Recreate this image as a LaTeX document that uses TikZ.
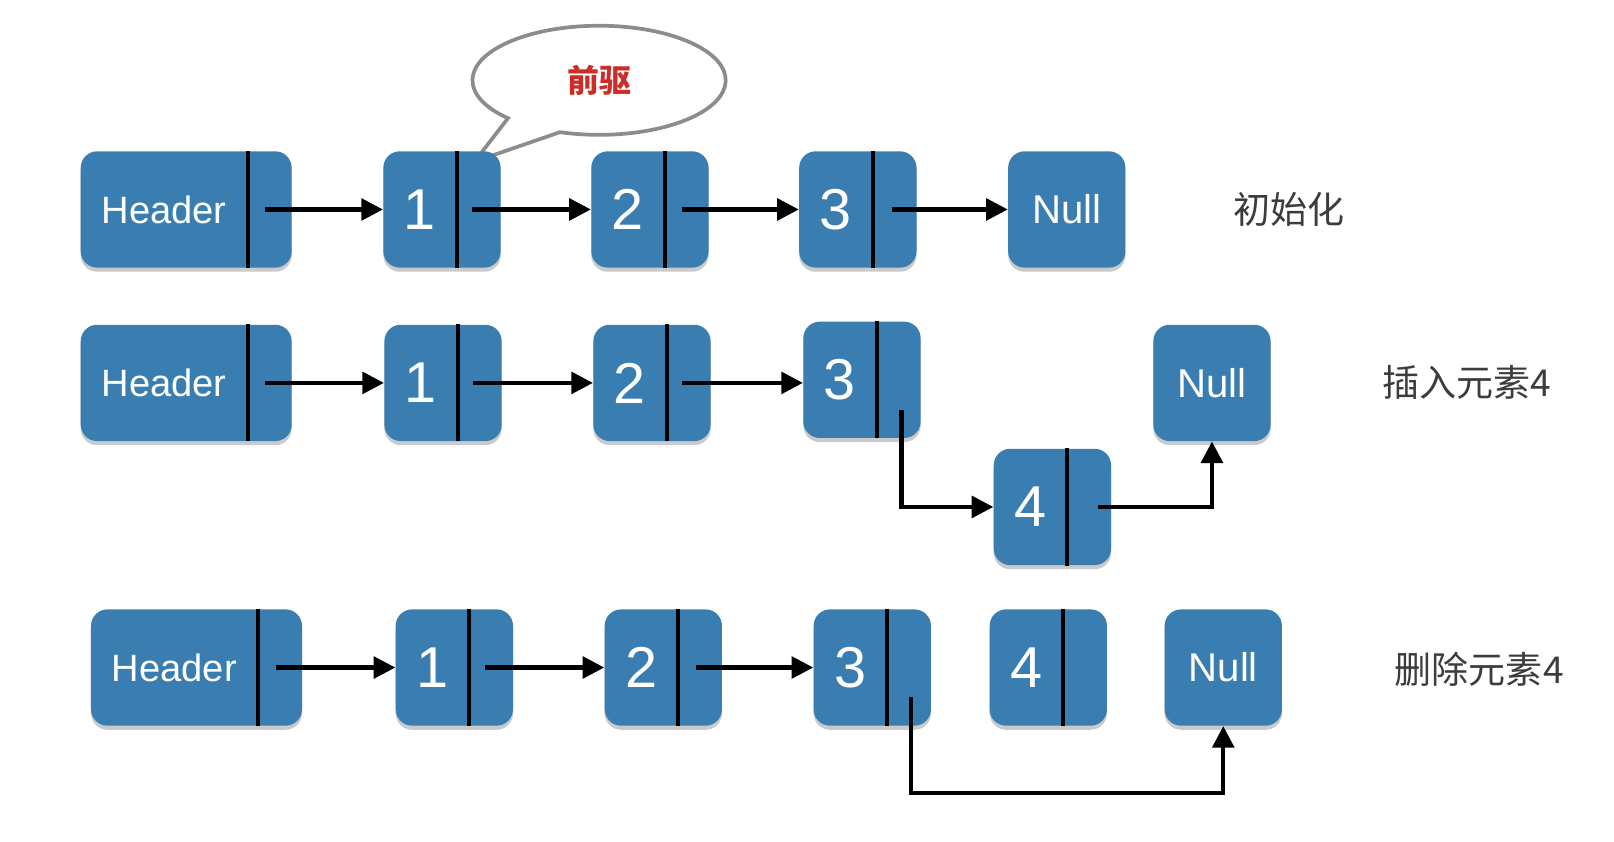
\documentclass[tikz,border=0pt]{standalone}
\usepackage{fontspec}
\setmainfont{Liberation Sans}
\newfontfamily\cjk{Noto Sans CJK SC}
\usetikzlibrary{calc,arrows.meta,shadows}
\definecolor{cellblue}{RGB}{58,126,177}
\definecolor{bubblered}{RGB}{205,45,40}
\definecolor{labelgray}{RGB}{60,60,60}
\tikzset{
  cellbox/.style={fill=cellblue, rounded corners=8pt, minimum height=56.5pt, inner sep=0pt,
    drop shadow={shadow xshift=0pt, shadow yshift=-2pt, opacity=0.35, fill=black!60}},
  divline/.style={line width=2pt, black},
  celltext/.style={text=white, font=\fontsize{28}{30}\selectfont, inner sep=0pt},
  headtext/.style={text=white, font=\fontsize{18.5}{20}\selectfont, inner sep=0pt},
  nulltext/.style={text=white, font=\fontsize{19.5}{21}\selectfont, inner sep=0pt},
  arr/.style={line width=2pt, -{Triangle[length=10.5pt,width=10.5pt]}},
  rowlabel/.style={text=labelgray, font=\cjk\fontsize{18}{20}\selectfont, inner sep=0pt},
}
% #1 name, #2 left x, #3 centre y, #4 width (px), #5 text style, #6 text
\newcommand\llcell[6]{%
  \node[cellbox, minimum width=#4*0.5pt, anchor=west] (#1) at (#2,#3) {};
  \draw[divline] ([xshift=-21.5pt]#1.north east) -- ([xshift=-21.5pt]#1.south east);
  \node[#5] (#1t) at ($(#1.west)!0.5!([xshift=-21.5pt]#1.east)$) {#6};
}
\newcommand\llnull[3]{%
  \node[cellbox, minimum width=57pt, anchor=west, nulltext] (#1) at (#2,#3) {Null};
}
\begin{document}
\begin{tikzpicture}[x=0.5pt,y=-0.5pt]
\useasboundingbox (0,0) rectangle (1568,818);

% speech bubble
\coordinate (bc) at (582,78);
\coordinate (btip) at (461,157);
\draw[line width=1.8pt, draw=black!45, fill=white]
  ($(bc)+(136:123 and 53)$) arc[start angle=136, end angle=468, x radius=123, y radius=53]
  -- (btip) -- cycle;
\node[text=bubblered, font=\cjk\bfseries\fontsize{15.5}{17}\selectfont] (pre) at (bc) {前驱};

% row 1
\llcell{ah}{78}{203.5}{205}{headtext}{Header}
\llcell{a1}{372}{203.5}{114}{celltext}{1}
\llcell{a2}{574}{203.5}{114}{celltext}{2}
\llcell{a3}{776}{203.5}{114}{celltext}{3}
\llnull{an}{979}{203.5}
\draw[arr] ([xshift=-13pt]ah.east) -- (a1.west);
\draw[arr] ([xshift=-14pt]a1.east) -- (a2.west);
\draw[arr] ([xshift=-13pt]a2.east) -- (a3.west);
\draw[arr] ([xshift=-12pt]a3.east) -- (an.west);
\node[rowlabel] (la) at (1252,203) {初始化};

% row 2
\llcell{bh}{78}{372}{205}{headtext}{Header}
\llcell{b1}{373}{372}{114}{celltext}{1}
\llcell{b2}{576}{372}{114}{celltext}{2}
\llcell{b3}{780}{369}{114}{celltext}{3}
\llcell{b4}{965}{492.5}{114}{celltext}{4}
\llnull{bn}{1120}{372}
\draw[arr] ([xshift=-13pt]bh.east) -- (b1.west);
\draw[arr] ([xshift=-14pt]b1.east) -- (b2.west);
\draw[arr] ([xshift=-14pt]b2.east) -- (b2.east -| b3.west);
\draw[arr] ([xshift=-9.5pt,yshift=-14.5pt]b3.east) |- (b4.west);
\draw[arr] ([xshift=-6.5pt]b4.east) -| (bn.south);
\node[rowlabel] (lb) at (1425,372) {插入元素4};

% row 3
\llcell{ch}{88}{648.5}{205}{headtext}{Header}
\llcell{c1}{384}{648.5}{114}{celltext}{1}
\llcell{c2}{587}{648.5}{114}{celltext}{2}
\llcell{c3}{790}{648.5}{114}{celltext}{3}
\llcell{c4}{961}{648.5}{114}{celltext}{4}
\llnull{cn}{1131}{648.5}
\draw[arr] ([xshift=-13pt]ch.east) -- (c1.west);
\draw[arr] ([xshift=-14pt]c1.east) -- (c2.west);
\draw[arr] ([xshift=-13pt]c2.east) -- (c3.west);
\coordinate (cstart) at ([xshift=-10pt,yshift=-14.5pt]c3.east);
\coordinate (cturn) at (884,770);
\draw[arr] (cstart) -- (cstart |- cturn) -| (cn.south);
\node[rowlabel] (lc) at (1437,650) {删除元素4};
\end{tikzpicture}
\end{document}
